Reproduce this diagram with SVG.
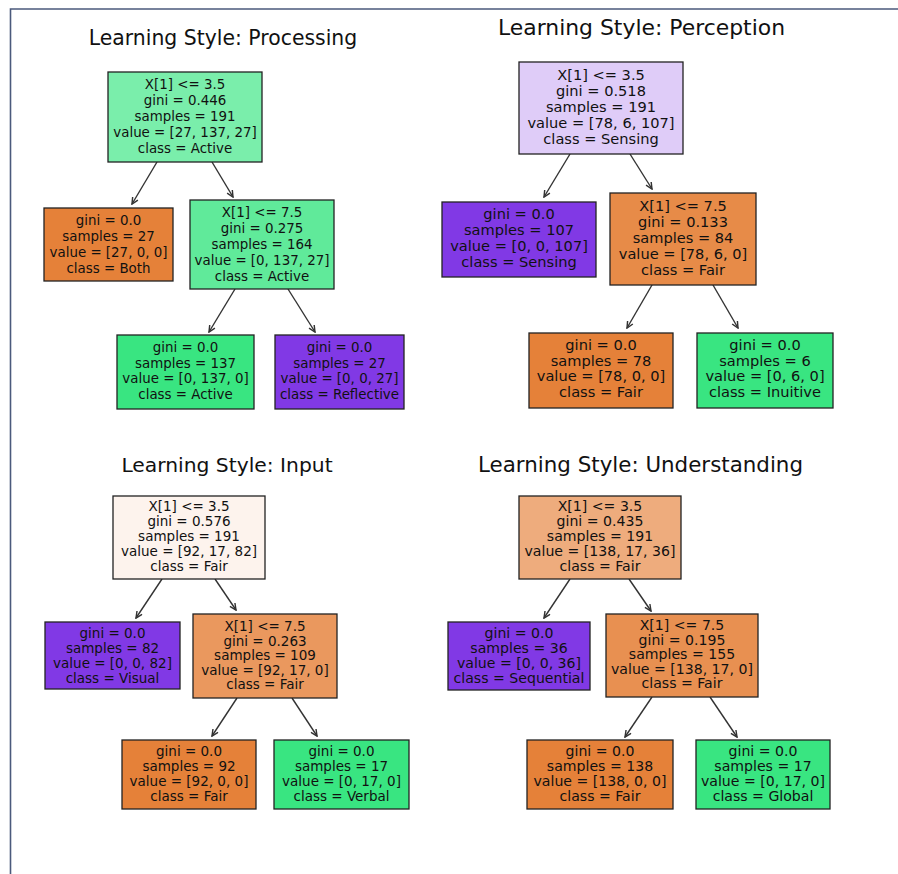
<svg xmlns="http://www.w3.org/2000/svg" width="898" height="874" viewBox="0 0 898 874">
<style>
.bg{fill:#ffffff}
.frame{stroke:#4b5a7c;stroke-width:1.6;fill:none}
.title{font-family:"DejaVu Sans",sans-serif;fill:#111;text-anchor:middle}
.box{stroke:#222;stroke-width:1.3}
.t{font-family:"DejaVu Sans",sans-serif;fill:#111;text-anchor:middle}
.s1{font-size:13.4px}.s2{font-size:14.6px}.s3{font-size:13.5px}.s4{font-size:14.1px}
.edge{stroke:#333;stroke-width:1.4;fill:none;marker-end:url(#ah)}
.or{fill:#e58139}.gr{fill:#39e581}.pu{fill:#8139e5}
</style>
<defs>
<marker id="ah" viewBox="0 0 10 10" refX="9" refY="5" markerWidth="8" markerHeight="8" markerUnits="userSpaceOnUse" orient="auto">
<path d="M1,1.2 L9,5 L1,8.8" fill="none" stroke="#333" stroke-width="1.8"/>
</marker>
</defs>
<rect class="bg" x="0" y="0" width="898" height="874"/>
<path class="frame" d="M10.5,874 L10.5,9 L898,9"/>

<text class="title" x="223" y="45" style="font-size:20.4px">Learning Style: Processing</text>
<text class="title" x="641.5" y="35" style="font-size:21.9px">Learning Style: Perception</text>
<text class="title" x="227" y="472" style="font-size:20.3px">Learning Style: Input</text>
<text class="title" x="640.5" y="472" style="font-size:21.4px">Learning Style: Understanding</text>

<g id="connectors">
<line class="edge" x1="157" y1="162" x2="132" y2="204"/>
<line class="edge" x1="212" y1="162" x2="233" y2="197"/>
<line class="edge" x1="235" y1="289" x2="209" y2="332"/>
<line class="edge" x1="288" y1="289" x2="315" y2="332"/>

<line class="edge" x1="570" y1="154" x2="544" y2="197"/>
<line class="edge" x1="630" y1="154" x2="652" y2="189"/>
<line class="edge" x1="652" y1="285" x2="627" y2="328"/>
<line class="edge" x1="713" y1="285" x2="738" y2="328"/>

<line class="edge" x1="162" y1="579" x2="136" y2="618"/>
<line class="edge" x1="215" y1="579" x2="236" y2="610"/>
<line class="edge" x1="237" y1="698" x2="212" y2="736"/>
<line class="edge" x1="292" y1="698" x2="317" y2="736"/>

<line class="edge" x1="570" y1="579" x2="544" y2="618"/>
<line class="edge" x1="629" y1="579" x2="651" y2="611"/>
<line class="edge" x1="652" y1="697" x2="625" y2="737"/>
<line class="edge" x1="710" y1="697" x2="737" y2="737"/>
</g>

<!-- Processing -->
<g id="proc-root" class="s1">
<rect class="box" x="108" y="72" width="154" height="90" fill="#7aeeab"/>
<text class="t" x="185" y="89">X[1] &lt;= 3.5</text>
<text class="t" x="185" y="105">gini = 0.446</text>
<text class="t" x="185" y="121">samples = 191</text>
<text class="t" x="185" y="137">value = [27, 137, 27]</text>
<text class="t" x="185" y="153">class = Active</text>
</g>
<g id="proc-both" class="s1">
<rect class="box or" x="44" y="208" width="129" height="73"/>
<text class="t" x="108.5" y="225">gini = 0.0</text>
<text class="t" x="108.5" y="241">samples = 27</text>
<text class="t" x="108.5" y="257">value = [27, 0, 0]</text>
<text class="t" x="108.5" y="273">class = Both</text>
</g>
<g id="proc-split" class="s1">
<rect class="box" x="190" y="200" width="144" height="89" fill="#60ea9a"/>
<text class="t" x="262" y="217">X[1] &lt;= 7.5</text>
<text class="t" x="262" y="233">gini = 0.275</text>
<text class="t" x="262" y="249">samples = 164</text>
<text class="t" x="262" y="265">value = [0, 137, 27]</text>
<text class="t" x="262" y="281">class = Active</text>
</g>
<g id="proc-active" class="s1">
<rect class="box gr" x="117" y="335" width="137" height="74"/>
<text class="t" x="185.5" y="352">gini = 0.0</text>
<text class="t" x="185.5" y="367.5">samples = 137</text>
<text class="t" x="185.5" y="383">value = [0, 137, 0]</text>
<text class="t" x="185.5" y="398.5">class = Active</text>
</g>
<g id="proc-reflective" class="s1">
<rect class="box pu" x="275" y="335" width="129" height="74"/>
<text class="t" x="339.5" y="352">gini = 0.0</text>
<text class="t" x="339.5" y="367.5">samples = 27</text>
<text class="t" x="339.5" y="383">value = [0, 0, 27]</text>
<text class="t" x="339.5" y="398.5">class = Reflective</text>
</g>

<!-- Perception -->
<g id="perc-root" class="s2">
<rect class="box" x="519" y="62" width="164" height="92" fill="#dfccf8"/>
<text class="t" x="601" y="80">X[1] &lt;= 3.5</text>
<text class="t" x="601" y="96">gini = 0.518</text>
<text class="t" x="601" y="112">samples = 191</text>
<text class="t" x="601" y="128">value = [78, 6, 107]</text>
<text class="t" x="601" y="144">class = Sensing</text>
</g>
<g id="perc-sensing" class="s2">
<rect class="box pu" x="442" y="202" width="154" height="75"/>
<text class="t" x="519" y="219">gini = 0.0</text>
<text class="t" x="519" y="235">samples = 107</text>
<text class="t" x="519" y="251">value = [0, 0, 107]</text>
<text class="t" x="519" y="267">class = Sensing</text>
</g>
<g id="perc-split" class="s2">
<rect class="box" x="610" y="193" width="146" height="92" fill="#e78b48"/>
<text class="t" x="683" y="211">X[1] &lt;= 7.5</text>
<text class="t" x="683" y="227">gini = 0.133</text>
<text class="t" x="683" y="243">samples = 84</text>
<text class="t" x="683" y="259">value = [78, 6, 0]</text>
<text class="t" x="683" y="275">class = Fair</text>
</g>
<g id="perc-fair" class="s2">
<rect class="box or" x="529" y="333" width="144" height="75"/>
<text class="t" x="601" y="350">gini = 0.0</text>
<text class="t" x="601" y="365.5">samples = 78</text>
<text class="t" x="601" y="381">value = [78, 0, 0]</text>
<text class="t" x="601" y="397">class = Fair</text>
</g>
<g id="perc-inuitive" class="s2">
<rect class="box gr" x="697" y="333" width="136" height="75"/>
<text class="t" x="765" y="350">gini = 0.0</text>
<text class="t" x="765" y="365.5">samples = 6</text>
<text class="t" x="765" y="381">value = [0, 6, 0]</text>
<text class="t" x="765" y="397">class = Inuitive</text>
</g>

<!-- Input -->
<g id="inp-root" class="s3">
<rect class="box" x="113" y="496" width="152" height="83" fill="#fdf3ed"/>
<text class="t" x="189" y="511">X[1] &lt;= 3.5</text>
<text class="t" x="189" y="526">gini = 0.576</text>
<text class="t" x="189" y="541">samples = 191</text>
<text class="t" x="189" y="556">value = [92, 17, 82]</text>
<text class="t" x="189" y="571">class = Fair</text>
</g>
<g id="inp-visual" class="s3">
<rect class="box pu" x="45" y="622" width="135" height="67"/>
<text class="t" x="112.5" y="638">gini = 0.0</text>
<text class="t" x="112.5" y="653">samples = 82</text>
<text class="t" x="112.5" y="668">value = [0, 0, 82]</text>
<text class="t" x="112.5" y="683">class = Visual</text>
</g>
<g id="inp-split" class="s3">
<rect class="box" x="193" y="614" width="144" height="84" fill="#ea985e"/>
<text class="t" x="265" y="631">X[1] &lt;= 7.5</text>
<text class="t" x="265" y="645.5">gini = 0.263</text>
<text class="t" x="265" y="660">samples = 109</text>
<text class="t" x="265" y="674.5">value = [92, 17, 0]</text>
<text class="t" x="265" y="689">class = Fair</text>
</g>
<g id="inp-fair" class="s3">
<rect class="box or" x="122" y="740" width="134" height="69"/>
<text class="t" x="189" y="756">gini = 0.0</text>
<text class="t" x="189" y="771">samples = 92</text>
<text class="t" x="189" y="786">value = [92, 0, 0]</text>
<text class="t" x="189" y="800.5">class = Fair</text>
</g>
<g id="inp-verbal" class="s3">
<rect class="box gr" x="274" y="740" width="135" height="69"/>
<text class="t" x="341.5" y="756">gini = 0.0</text>
<text class="t" x="341.5" y="771">samples = 17</text>
<text class="t" x="341.5" y="786">value = [0, 17, 0]</text>
<text class="t" x="341.5" y="800.5">class = Verbal</text>
</g>

<!-- Understanding -->
<g id="und-root" class="s4">
<rect class="box" x="519" y="496" width="162" height="83" fill="#eeac7d"/>
<text class="t" x="600" y="511">X[1] &lt;= 3.5</text>
<text class="t" x="600" y="526">gini = 0.435</text>
<text class="t" x="600" y="541">samples = 191</text>
<text class="t" x="600" y="556">value = [138, 17, 36]</text>
<text class="t" x="600" y="571">class = Fair</text>
</g>
<g id="und-sequential" class="s4">
<rect class="box pu" x="448" y="622" width="142" height="68"/>
<text class="t" x="519" y="638">gini = 0.0</text>
<text class="t" x="519" y="653">samples = 36</text>
<text class="t" x="519" y="668">value = [0, 0, 36]</text>
<text class="t" x="519" y="682.5">class = Sequential</text>
</g>
<g id="und-split" class="s4">
<rect class="box" x="606" y="614" width="152" height="83" fill="#e89051"/>
<text class="t" x="682" y="630">X[1] &lt;= 7.5</text>
<text class="t" x="682" y="644.5">gini = 0.195</text>
<text class="t" x="682" y="659">samples = 155</text>
<text class="t" x="682" y="673.5">value = [138, 17, 0]</text>
<text class="t" x="682" y="688">class = Fair</text>
</g>
<g id="und-fair" class="s4">
<rect class="box or" x="527" y="740" width="146" height="69"/>
<text class="t" x="600" y="756">gini = 0.0</text>
<text class="t" x="600" y="771">samples = 138</text>
<text class="t" x="600" y="786">value = [138, 0, 0]</text>
<text class="t" x="600" y="800.5">class = Fair</text>
</g>
<g id="und-global" class="s4">
<rect class="box gr" x="696" y="740" width="134" height="69"/>
<text class="t" x="763" y="756">gini = 0.0</text>
<text class="t" x="763" y="771">samples = 17</text>
<text class="t" x="763" y="786">value = [0, 17, 0]</text>
<text class="t" x="763" y="800.5">class = Global</text>
</g>
</svg>
